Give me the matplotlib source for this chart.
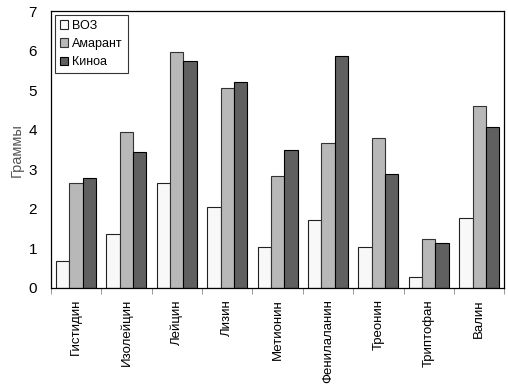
import numpy as np
import matplotlib
matplotlib.use("Agg")
import matplotlib.pyplot as plt
from matplotlib.ticker import FixedLocator

categories = ["Гистидин", "Изолейцин", "Лейцин", "Лизин", "Метионин",
              "Фенилаланин", "Треонин", "Триптофан", "Валин"]
voz = [0.68, 1.36, 2.65, 2.04, 1.03, 1.71, 1.03, 0.28, 1.78]
amarant = [2.65, 3.94, 5.96, 5.06, 2.83, 3.67, 3.79, 1.24, 4.60]
kinoa = [2.78, 3.44, 5.74, 5.21, 3.49, 5.87, 2.88, 1.15, 4.07]
series_names = ["ВОЗ", "Амарант", "Киноа"]

plt.rcParams["font.family"] = ["Liberation Sans Narrow", "Liberation Sans", "DejaVu Sans"]

fig = plt.figure(figsize=(5.08, 3.85), dpi=100)
ax = fig.add_axes([0.1, 0.252, 0.893, 0.719])

x = np.arange(len(categories))
w = 0.264
ax.bar(x - w, voz, w, color="#f8f8f8", edgecolor="#222222", linewidth=0.8, label=series_names[0])
ax.bar(x, amarant, w, color="#b8b8b8", edgecolor="#333333", linewidth=0.8, label=series_names[1])
ax.bar(x + w, kinoa, w, color="#606060", edgecolor="#000000", linewidth=0.8, label=series_names[2])

ax.set_xlim(-0.5, len(categories) - 0.5)
ax.set_ylim(0, 7)
ax.set_xticks(x)
ax.set_xticklabels(categories, rotation=90, fontsize=9.5)
ax.tick_params(axis="x", length=0, pad=8)
ax.xaxis.set_minor_locator(FixedLocator(np.arange(-0.5, len(categories), 1.0)))
ax.tick_params(axis="x", which="minor", length=4, color="#888888")
ax.set_yticks(range(8))
ax.tick_params(axis="y", length=0, labelsize=11, pad=10)
ax.set_ylabel("Граммы", color="#555555", fontsize=10.5, labelpad=3)

for s in ax.spines.values():
    s.set_linewidth(0.9)
    s.set_color("black")

leg = ax.legend(loc="upper left", fontsize=9, frameon=True, fancybox=False,
                edgecolor="black", handlelength=0.7, handleheight=0.7,
                handletextpad=0.3, borderaxespad=0.3, labelspacing=0.5)
leg.get_frame().set_linewidth(0.8)

fig.savefig("out.png", dpi=100)
